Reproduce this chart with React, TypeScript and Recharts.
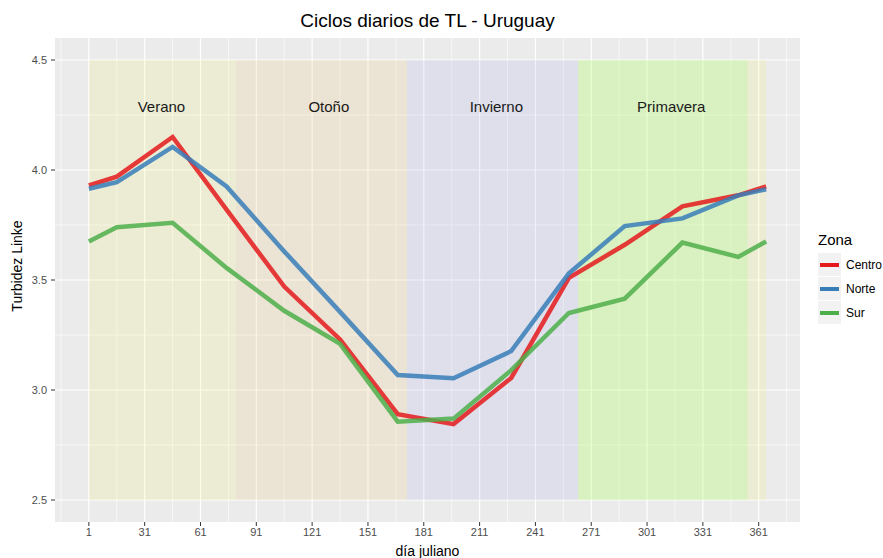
import { LineChart, Line, XAxis, YAxis, CartesianGrid, ReferenceArea, ReferenceDot, Label } from 'recharts';

const days = [1, 16, 46, 75, 106, 136, 167, 197, 228, 259, 289, 320, 350, 365];
const centro = [3.93, 3.97, 4.15, 3.82, 3.47, 3.23, 2.89, 2.845, 3.055, 3.51, 3.66, 3.835, 3.885, 3.925];
const norte = [3.915, 3.945, 4.105, 3.925, 3.63, 3.355, 3.068, 3.053, 3.177, 3.53, 3.745, 3.78, 3.885, 3.912];
const sur = [3.675, 3.74, 3.76, 3.555, 3.36, 3.21, 2.856, 2.87, 3.09, 3.35, 3.415, 3.67, 3.605, 3.675];

const zonas = ['Centro', 'Norte', 'Sur'];
const zonaColors = ['#E41A1C', '#377EB8', '#4DAF4A'];

const seasonStart = [1, 80, 172, 264, 355];
const seasonEnd = [80, 172, 264, 355, 365];
const seasonFill = ['#F2F252', '#EBB64B', '#949BE4', '#AFFC5C', '#F2F252'];
const seasonOpacity = [0.15, 0.15, 0.15, 0.3, 0.15];

const seasonNames = ['Verano', 'Otoño', 'Invierno', 'Primavera'];
const seasonLabelDay = [40, 130, 220, 314];
const seasonLabelY = 4.29;

const xTicks = [1, 31, 61, 91, 121, 151, 181, 211, 241, 271, 301, 331, 361];
const xMinor = [-14, 16, 46, 76, 106, 136, 166, 196, 226, 256, 286, 316, 346, 376];
const yTicks = [2.5, 3.0, 3.5, 4.0, 4.5];
const yMinor = [2.75, 3.25, 3.75, 4.25];

const data = days.map((d, i) => ({ dia: d, Centro: centro[i], Norte: norte[i], Sur: sur[i] }));

const font = '"Liberation Sans", Arial, sans-serif';

const YTitle = () => (
  <text x={17} y={266} transform="rotate(-90 17 266)" textAnchor="middle" dominantBaseline="central" fill="#000" fontSize={14}>
    Turbidez Linke
  </text>
);

export default function App() {
  return (
    <div style={{ position: 'absolute', left: 0, top: 0, width: 883, height: 558, background: '#fff', fontFamily: font }}>
      <div style={{ position: 'absolute', left: 55, width: 745, top: 10, textAlign: 'center', fontSize: 19, color: '#000' }}>
        Ciclos diarios de TL - Uruguay
      </div>
      <LineChart width={883} height={558} data={data} margin={{ top: 38, right: 83, bottom: 0, left: 0 }} style={{ fontFamily: font }}>
        <CartesianGrid fill="#EBEBEB" stroke="#FFFFFF" strokeWidth={0.6} verticalValues={xMinor} horizontalValues={yMinor} />
        <CartesianGrid stroke="#FFFFFF" strokeWidth={1.2} verticalValues={xTicks} horizontalValues={yTicks} />
        <XAxis
          dataKey="dia"
          type="number"
          domain={[-17.2, 383.2]}
          ticks={xTicks}
          allowDataOverflow
          height={36}
          axisLine={false}
          tickSize={4}
          tickMargin={2}
          tickLine={{ stroke: '#333' }}
          tick={{ fill: '#4D4D4D', fontSize: 11 }}
          label={{ value: 'día juliano', position: 'insideBottom', offset: 2, fill: '#000', fontSize: 14 }}
        />
        <YAxis
          type="number"
          domain={[2.4, 4.6]}
          ticks={yTicks}
          allowDataOverflow
          width={55}
          axisLine={false}
          tickSize={4}
          tickMargin={4}
          tickLine={{ stroke: '#333' }}
          tick={{ fill: '#4D4D4D', fontSize: 11 }}
          tickFormatter={(v: number) => v.toFixed(1)}
        >
          <Label content={<YTitle />} />
        </YAxis>
        {seasonStart.map((s, i) => (
          <ReferenceArea key={`s-${i}`} x1={s} x2={seasonEnd[i]} y1={2.5} y2={4.5} fill={seasonFill[i]} fillOpacity={seasonOpacity[i]} stroke="none" />
        ))}
        {seasonNames.map((n, i) => (
          <ReferenceDot
            key={`l-${i}`}
            x={seasonLabelDay[i]}
            y={seasonLabelY}
            r={0}
            fill="none"
            stroke="none"
            label={{ value: n, position: 'center', fill: '#1a1a1a', fontSize: 15 }}
          />
        ))}
        {zonas.map((z, i) => (
          <Line
            key={z}
            type="linear"
            dataKey={z}
            stroke={zonaColors[i]}
            strokeWidth={4.5}
            strokeOpacity={0.85}
            dot={false}
            activeDot={false}
            isAnimationActive={false}
          />
        ))}
      </LineChart>
      <div style={{ position: 'absolute', left: 818, top: 231, fontSize: 15, color: '#000' }}>Zona</div>
      {zonas.map((z, i) => (
        <div key={z} style={{ position: 'absolute', left: 818, top: 253 + i * 24, height: 23, display: 'flex', alignItems: 'center' }}>
          <div style={{ width: 23, height: 23, background: '#F2F2F2', position: 'relative' }}>
            <div style={{ position: 'absolute', left: 2, right: 2, top: 9.5, height: 4, background: zonaColors[i] }} />
          </div>
          <span style={{ marginLeft: 5, fontSize: 12, color: '#000' }}>{z}</span>
        </div>
      ))}
    </div>
  );
}
